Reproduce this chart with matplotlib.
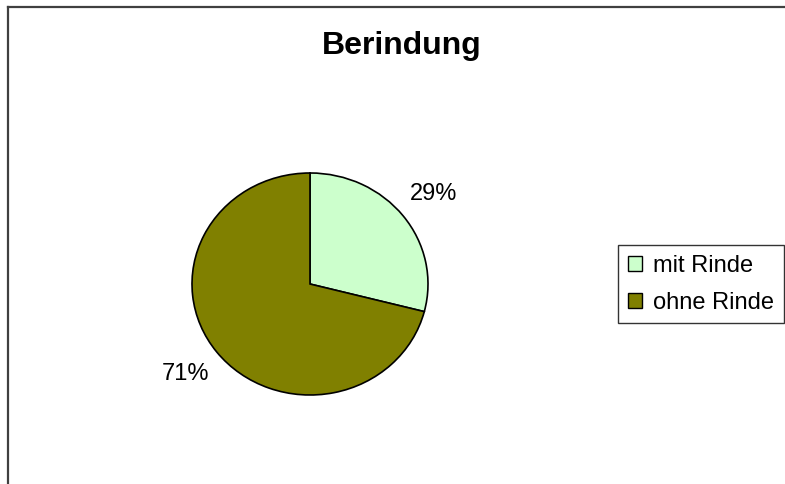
import matplotlib.pyplot as plt
from matplotlib.lines import Line2D

plt.rcParams['font.family'] = ['Liberation Sans', 'DejaVu Sans']

# daten
labels = ['mit Rinde', 'ohne Rinde']
anteile = [29, 71]
farben = ['#CCFFCC', '#808000']
titel = 'Berindung'

W, H = 785, 484
fig = plt.figure(figsize=(W / 100, H / 100), dpi=100)

# rahmen (nur oben und links sichtbar)
fig.add_artist(Line2D([7.5 / W, 7.5 / W], [0, 1 - 6.5 / H], transform=fig.transFigure,
                      color='#404040', lw=1.6))
fig.add_artist(Line2D([7.5 / W, 1], [1 - 6.5 / H, 1 - 6.5 / H], transform=fig.transFigure,
                      color='#404040', lw=1.6))

# kreis leicht gestreckt: mitte (310, 284), rx 118, ry 111 px
cx, cy, rx, ry = 310, 284, 118, 111
ax = fig.add_axes([(cx - rx) / W, 1 - (cy + ry) / H, 2 * rx / W, 2 * ry / H])
wedges, texts, autotexts = ax.pie(anteile, colors=farben, startangle=90, counterclock=False,
                                  autopct='%1.0f%%', pctdistance=1.33,
                                  wedgeprops=dict(edgecolor='black', linewidth=1.2),
                                  textprops=dict(fontsize=17, color='black'))
ax.set_xlim(-1, 1)
ax.set_ylim(-1, 1)
ax.set_aspect('auto')
ax.axis('off')

fig.text(402 / W, 1 - 54 / H, titel, ha='center', va='baseline', fontsize=23, fontweight='bold')

leg = fig.legend(wedges, labels, loc='upper left', bbox_to_anchor=(618 / W, 1 - 245 / H),
                 frameon=True, fancybox=False, fontsize=17, handlelength=0.6, handleheight=0.6,
                 handletextpad=0.45, borderpad=0.42, labelspacing=0.62, borderaxespad=0)
leg.get_frame().set_edgecolor('black')
leg.get_frame().set_linewidth(1.0)
for h in leg.legend_handles:
    h.set_linewidth(1.0)

fig.savefig('out.png', dpi=100)
